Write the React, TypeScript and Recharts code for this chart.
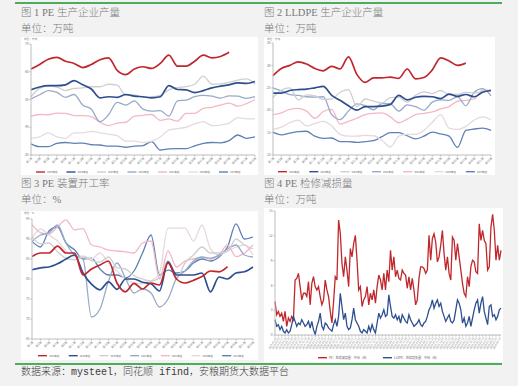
import React from "react";
import { LineChart, Line, XAxis, YAxis } from "recharts";

// x categories for the year-on-year charts (every other week)
const weekLabels = [
  "第1周", "第3周", "第5周", "第7周", "第9周", "第11周", "第13周", "第15周", "第17周",
  "第19周", "第21周", "第23周", "第25周", "第27周", "第29周", "第31周", "第33周", "第35周",
  "第37周", "第39周", "第41周", "第43周", "第45周", "第47周", "第49周", "第51周", "第53周",
];

const yearNames = ["2025年度", "2024年度", "2023年度", "2022年度", "2021年度", "2020年度", "2019年度"];
const yearColors = ["#c0272d", "#2e4f8f", "#cfcfcf", "#97abc9", "#f2b8c4", "#e6dadd", "#5f80b6"];

// 图1 PE 生产企业产量 (万吨)
const pe2025 = [61, 62.6, 64.5, 65.2, 63.8, 63, 61.5, 62.6, 64.3, 65, 60.5, 59, 61, 61.8, 61.2, 63, 66, 62, 62, 63.8, 66, 65, 65.5, 67, null, null, null];
const pe2024 = [53.5, 54.5, 55, 55, 55.3, 56.8, 55.3, 53.8, 50.6, 51, 50.8, 51.8, 51.2, 51, 50.6, 51, 55, 53.6, 53.5, 52.5, 53.2, 54.2, 54.8, 55.3, 56, 55.8, 56.5];
const pe2023 = [51, 54, 54.8, 54.5, 53.2, 54, 54.2, 54.6, 54.6, 55.5, 55.2, 51.5, 51.7, 50.8, 51, 51.5, 53.5, 54.3, 54.6, 55.5, 58.4, 55.5, 55.6, 56.2, 57, 57.4, 55.5];
const pe2022 = [50.2, 51.7, 53.2, 52.6, 50.8, 51.8, 48, 46.5, 42, 44.5, 49, 48, 49.5, 46.5, 45.8, 46, 44, 49.5, 49.8, 51, 51.5, 51.2, 50.5, 51.3, 51.2, 50.4, 51];
const pe2021 = [44, 44.6, 44.5, 45.1, 45, 44.2, 44.2, 43.8, 41.8, 40.6, 41.5, 41.8, 44, 44.3, 44.6, 42.5, 43, 42.2, 45, 45, 46.8, 47.2, 48, 48.7, 47.6, 48.5, 50];
const pe2020 = [36, 36.5, 38, 36.5, 36, 38, 38, 38.5, 38, 37.5, 37, 35, 35, 34.5, 35, 36.5, 39, 39.5, 40, 41.2, 42, 40.6, 40.8, 41.5, 43.5, 43, 43];
const pe2019 = [34, 33, 33, 34.2, 34.5, 34.2, 34.3, 33.7, 33.6, 33.2, 33.2, 32.8, 33.2, 33.4, 34.8, 31.8, 32.2, 32.3, 32.3, 33.3, 34.2, 34.5, 34.4, 35.2, 37.2, 36, 36.5];

// 图2 LLDPE 生产企业产量 (万吨)
const ll2025 = [27.7, 29.3, 30, 30.8, 30.3, 29.3, 28.8, 29.8, 29.2, 31.9, 28, 26.2, 27.2, 27.2, 27.4, 27.1, 29.2, 27, 27.3, 29, 31.7, 31, 30, 30.5, null, null, null];
const ll2024 = [23.8, 23.8, 24.4, 24.6, 24.7, 25, 25.3, 23.3, 22.2, 21, 20, 20.8, 20.8, 20.9, 21.3, 23.3, 22.3, 22.9, 23.1, 23, 22.6, 23.6, 23.1, 23.5, 23, 24, 24.4];
const ll2023 = [22.8, 24.5, 25, 22.3, 23.4, 23.2, 22.4, 22.5, 24, 24.6, 20.8, 22.5, 22, 21.6, 22.8, 22.9, 21.8, 23.3, 24.1, 23.7, 24.4, 23.5, 23.5, 24, 23.8, 24.2, 24.6];
const ll2022 = [25, 24.3, 23.5, 23.3, 23, 22.9, 23, 19, 17.9, 19.8, 21.4, 21, 20.1, 21.5, 21.4, 19.8, 21.2, 20.8, 20, 21.8, 22.3, 22.2, 23, 21, 24, 24.8, 23.2];
const ll2021 = [19, 19.4, 20.2, 20.4, 19.8, 18.2, 19.7, 20.2, 16.9, 17.5, 18.2, 19, 19.3, 19.4, 18.5, 17.2, 18, 19, 19.3, 19.6, 20.3, 20.8, 22, 22.2, 22.5, 24.5, 24.3];
const ll2020 = [15.7, 16.2, 17.2, 17.8, 16.5, 17, 17.5, 16.5, 14.6, 14.2, 14.2, 14.4, 14.3, 13.3, 11.8, 14.2, 14.6, 14.6, 15.5, 17.3, 19, 16, 15.7, 16.4, 17.8, 18.5, 17.8];
const ll2019 = [15.1, 14.5, 14.9, 15.2, 15.3, 14.2, 13.7, 13.8, 13, 13, 12.8, 13, 13.2, 14.1, 15, 15, 14.3, 13.6, 14.2, 15.1, 14.7, 14.2, 11.7, 15.5, 15.8, 16, 15.5];

// 图3 PE 装置开工率 (%)
const op2025 = [85.6, 86.5, 86.5, 88.2, 86.5, 86.5, 81, 82.5, 83.5, 84.5, 79, 76.8, 78.9, 77.5, 79, 78.5, 84, 80, 79, 79.7, 80.6, 82, 81.8, 83.1, null, null, null];
const op2024 = [82.3, 82.8, 83, 83.8, 85, 86, 81.5, 78.7, 77.3, 79.3, 77.4, 80, 80, 79.2, 78.8, 77, 84.3, 81, 81, 81, 81.5, 76.8, 80.5, 80, 81.5, 81.8, 83];
const op2023 = [90.6, 88.8, 89, 86.8, 85.2, 84.8, 85.5, 84.6, 84.2, 85.5, 82.8, 82.5, 80.8, 80, 79.5, 80.4, 84.5, 80, 84, 86, 88, 86.5, 86.5, 86.9, 90, 88.5, 87.5];
const op2022 = [89.4, 91, 91.5, 93.5, 89, 86, 85, 70.5, 72.5, 79.5, 84, 80.2, 76.5, 77.5, 76.5, 73, 75, 80.2, 82, 84.5, 85.5, 85.2, 86, 87.5, 88.5, 86, 85.5];
const op2021 = [93.6, 91.6, 91.2, 93, 94.8, 92.3, 92.6, 88.5, 88, 87.2, 87, 86.8, 86.5, 89, 89.5, 80, 87, 83, 84.5, 85, 85.4, 85, 86, 88.5, 85.6, 86.5, 88.5];
const op2020 = [90.2, 92.5, 91, 89.5, 87, 85.5, 85.8, 85, 86.5, 84, 82, 80, 79, 78.8, 79.5, 81.5, 92.7, 92.7, 92.7, 89.5, 93.5, 87.5, 86, 87, 88, 88.5, 86];
const op2019 = [89.4, 88, 92, 93, 89, 87.3, 85, 85.2, 82.5, 81, 81, 80.3, 82, 86.5, 91, 81, 82.2, 81.5, 82, 84, 85, 84.5, 85.5, 88, 93.8, 90, 90.5];

// 图4 PE / LLDPE 检修损失量 (万吨)
const peLoss = [
  4.05, 2.45, 2.85, 2.25, 2.65, 1.65, 2.85, 1.05, 2.05, 1.65,
  2.25, 1.85, 6.65, 6.85, 7.45, 5.85, 4.25, 5.05, 5.05, 4.65,
  6.45, 3.65, 6.25, 7.05, 5.85, 5.45, 5.85, 4.65, 3.65, 4.25,
  6.65, 5.45, 4.65, 2.85, 1.45, 4.05, 7.05, 6.65, 13.9, 12.3,
  8.65, 7.05, 9.45, 7.85, 5.85, 10.45, 9.45, 11.05, 12.05, 9.05,
  5.45, 5.85, 3.45, 4.25, 4.65, 5.85, 3.65, 5.05, 4.25, 5.45,
  3.85, 5.85, 7.25, 6.65, 5.45, 7.45, 5.45, 7.85, 6.45, 10.25,
  7.85, 9.45, 7.05, 7.85, 6.85, 6.65, 7.85, 7.45, 7.25, 5.65,
  7.05, 5.45, 6.85, 5.45, 3.65, 4.25, 6.85, 8.25, 8.25, 8.05,
  7.45, 7.85, 12.05, 9.05, 11.65, 12.25, 11.25, 8.85, 9.45, 10.85,
  12.65, 9.85, 7.85, 9.45, 7.45, 6.65, 11.85, 11.45, 9.05, 11.05,
  9.45, 7.85, 6.25, 5.05, 4.65, 7.05, 5.85, 8.25, 9.05, 8.85,
  7.65, 7.45, 13.45, 11.45, 12.65, 11.45, 11.05, 7.85, 8.25, 13.05,
  14.6, 12.65, 9.05, 10.85, 9.05, 10.25,
];
const lldpeLoss = [
  1.85, 1.05, 1.25, 0.65, 1.05, 0.45, 0.25, 0.65, 0.25, 0.45,
  1.25, 2.25, 1.65, 1.05, 1.45, 1.25, 1.85, 1.45, 1.05, 1.25,
  1.65, 0.85, 1.65, 0.65, 0.05, 1.05, 1.65, 2.65, 1.05, 0.65,
  1.45, 1.25, 0.85, 0.65, 0.45, 1.25, 1.85, 1.05, 2.25, 5.05,
  3.45, 1.85, 2.65, 1.05, 0.65, 0.85, 1.85, 3.25, 1.85, 1.45,
  1.05, 0.45, 0.25, 0.65, 0.45, 0.25, 1.05, 0.45, 1.25, 0.65,
  0.25, 1.45, 2.65, 2.05, 2.45, 3.05, 2.25, 2.45, 4.85, 3.45,
  2.25, 2.05, 2.45, 1.85, 2.25, 1.45, 2.45, 2.05, 1.65, 1.45,
  2.45, 1.85, 1.45, 1.05, 1.25, 1.45, 1.85, 1.25, 1.05, 1.45,
  1.65, 2.25, 3.05, 3.45, 4.25, 3.25, 3.85, 4.25, 3.45, 3.85,
  2.85, 2.25, 1.65, 2.05, 2.45, 1.65, 1.45, 1.85, 3.05, 4.25,
  3.85, 3.05, 1.45, 2.05, 1.05, 1.45, 2.25, 1.05, 2.05, 3.05,
  3.85, 4.25, 2.65, 3.85, 4.65, 2.85, 2.05, 1.25, 3.45, 3.65,
  2.25, 2.45, 1.85, 2.25, 3.05, 3.25,
];
const lossNames = ["PE：检修减损量：中国（周）", "LLDPE：检修损失量：中国（周）"];

// date categories for 图4, one every 18 days from 2019-01-04
const lossDates: string[] = [];
for (let i = 0; i < peLoss.length; i++) {
  lossDates.push(new Date(Date.UTC(2019, 0, 4) + i * 18 * 86400000).toISOString().slice(0, 10));
}

const green = "#4cae5b";
const sans = '"Noto Sans CJK SC", "Noto Sans", sans-serif';
const serif = '"Liberation Serif", "DejaVu Serif", "Noto Sans CJK SC", serif';
const axisColor = "#bdbdbd";

type Series = (number | null)[];

function buildRows(series: Series[]) {
  return weekLabels.map((w, i) => {
    const row: Record<string, string | number | null> = { week: w };
    series.forEach((s, k) => {
      row["y" + k] = s[i] ?? null;
    });
    return row;
  });
}

function Caption({ left, top, children, size = 10.5, color = "#7a7a7a", font = serif }: any) {
  return (
    <div
      style={{
        position: "absolute",
        left,
        top,
        fontSize: size,
        lineHeight: "14px",
        color,
        fontFamily: font,
        fontWeight: 300,
        whiteSpace: "nowrap",
      }}
    >
      {children}
    </div>
  );
}

interface YearPanelProps {
  left: number;
  top: number;
  width: number;
  height: number;
  margin: { top: number; right: number; bottom: number; left: number };
  yWidth: number;
  domain: [number, number];
  ticks: number[];
  series: Series[];
  unit: string;
  legendY: number;
  legendX: number;
  legendStep: number;
}

function YearPanel(p: YearPanelProps) {
  const rows = buildRows(p.series);
  const order = p.series.map((_, k) => p.series.length - 1 - k);
  return (
    <div style={{ position: "absolute", left: p.left, top: p.top, width: p.width, height: p.height, background: "#fff" }}>
      <LineChart width={p.width} height={p.height} data={rows} margin={p.margin}>
        <XAxis
          dataKey="week"
          interval={0}
          angle={-45}
          textAnchor="end"
          height={12}
          tickSize={1.5}
          tickMargin={0.5}
          stroke={axisColor}
          tick={{ fontSize: 2.8, fill: "#777", fontFamily: sans }}
        />
        <YAxis
          width={p.yWidth}
          domain={p.domain}
          ticks={p.ticks}
          allowDataOverflow
          tickSize={1.5}
          tickMargin={1}
          stroke={axisColor}
          tick={{ fontSize: 3.2, fill: "#777", fontFamily: sans }}
        />
        {order.map((k) => (
          <Line
            key={yearNames[k]}
            dataKey={"y" + k}
            type="monotone"
            stroke={yearColors[k]}
            strokeWidth={k < 2 ? 1.7 : 1.3}
            dot={false}
            isAnimationActive={false}
          />
        ))}
      </LineChart>
      <svg width={p.width} height={p.height} style={{ position: "absolute", left: 0, top: 0, pointerEvents: "none" }}>
        <text x={3} y={3} fontSize={2.6} fill="#777" fontFamily={sans}>
          {p.unit}
        </text>
        {yearNames.map((name, k) => {
          const x = p.legendX + k * p.legendStep;
          return (
            <g key={name}>
              <line x1={x} x2={x + 9} y1={p.legendY} y2={p.legendY} stroke={yearColors[k]} strokeWidth={1.4} />
              <text x={x + 11} y={p.legendY + 1} fontSize={2.5} fill="#666" fontFamily={sans}>
                {name}
              </text>
            </g>
          );
        })}
      </svg>
    </div>
  );
}

function LossPanel() {
  const width = 239;
  const height = 154;
  const rows = lossDates.map((d, i) => ({ date: d, pe: peLoss[i], lldpe: lldpeLoss[i] }));
  const lossColors = ["#c0272d", "#2e4f8f"];
  const legendX = [54, 119];
  return (
    <div style={{ position: "absolute", left: 264, top: 208, width, height, background: "#fff" }}>
      <LineChart width={width} height={height} data={rows} margin={{ top: 3, right: 2, bottom: 9, left: 0 }}>
        <XAxis
          dataKey="date"
          interval={1}
          angle={-60}
          textAnchor="end"
          height={18}
          tickSize={1.5}
          tickMargin={0.5}
          stroke={axisColor}
          tick={{ fontSize: 2.6, fill: "#777", fontFamily: sans }}
        />
        <YAxis
          width={11}
          domain={[0, 15]}
          ticks={[0, 3, 6, 9, 12, 15]}
          tickSize={1.5}
          tickMargin={1}
          stroke={axisColor}
          tick={{ fontSize: 3.2, fill: "#777", fontFamily: sans }}
        />
        <Line dataKey="pe" type="linear" stroke={lossColors[0]} strokeWidth={1.3} dot={false} isAnimationActive={false} />
        <Line dataKey="lldpe" type="linear" stroke={lossColors[1]} strokeWidth={1.3} dot={false} isAnimationActive={false} />
      </LineChart>
      <svg width={width} height={height} style={{ position: "absolute", left: 0, top: 0, pointerEvents: "none" }}>
        {lossNames.map((name, k) => (
          <g key={name}>
            <line x1={legendX[k]} x2={legendX[k] + 9} y1={149.7} y2={149.7} stroke={lossColors[k]} strokeWidth={1.4} />
            <text x={legendX[k] + 11} y={150.8} fontSize={3} fill="#666" fontFamily={sans}>
              {name}
            </text>
          </g>
        ))}
      </svg>
    </div>
  );
}

export default function App() {
  return (
    <div style={{ position: "fixed", left: 0, top: 0, width: 518, height: 386, background: "#f2f2f2", overflow: "hidden" }}>
      <div style={{ position: "absolute", left: 15, top: 2, width: 487, height: 2, background: green }} />

      <Caption left={21} top={6}>图 1 PE 生产企业产量</Caption>
      <Caption left={21} top={22}>单位：万吨</Caption>
      <Caption left={264} top={6}>图 2 LLDPE 生产企业产量</Caption>
      <Caption left={264} top={22}>单位：万吨</Caption>

      <YearPanel
        left={21}
        top={37}
        width={237}
        height={138}
        margin={{ top: 7, right: 3, bottom: 8, left: 0 }}
        yWidth={10}
        domain={[30, 70]}
        ticks={[30, 40, 50, 60, 70]}
        series={[pe2025, pe2024, pe2023, pe2022, pe2021, pe2020, pe2019]}
        unit="单位：万吨"
        legendY={135}
        legendX={15}
        legendStep={30.5}
      />
      <YearPanel
        left={264}
        top={37}
        width={231}
        height={138}
        margin={{ top: 6, right: 4, bottom: 8, left: 0 }}
        yWidth={9}
        domain={[10, 35]}
        ticks={[10, 15, 20, 25, 30, 35]}
        series={[ll2025, ll2024, ll2023, ll2022, ll2021, ll2020, ll2019]}
        unit="单位：万吨"
        legendY={134.7}
        legendX={14}
        legendStep={31.3}
      />

      <Caption left={21} top={177}>图 3 PE 装置开工率</Caption>
      <Caption left={21} top={193}>单位：%</Caption>
      <Caption left={264} top={177}>图 4 PE 检修减损量</Caption>
      <Caption left={264} top={193}>单位：万吨</Caption>

      <YearPanel
        left={21}
        top={211}
        width={237}
        height={149}
        margin={{ top: 8, right: 5, bottom: 9, left: 0 }}
        yWidth={11}
        domain={[65, 95]}
        ticks={[65, 70, 75, 80, 85, 90, 95]}
        series={[op2025, op2024, op2023, op2022, op2021, op2020, op2019]}
        unit="单位：%"
        legendY={144.7}
        legendX={17}
        legendStep={30.7}
      />
      <LossPanel />

      <div style={{ position: "absolute", left: 15, top: 363, width: 487, height: 2, background: green }} />
      <Caption left={21} top={366} size={10} color="#3a3a3a" font={'"Liberation Mono", "Noto Sans CJK SC", monospace'}>
        数据来源：mysteel，同花顺 ifind，安粮期货大数据平台
      </Caption>
    </div>
  );
}
